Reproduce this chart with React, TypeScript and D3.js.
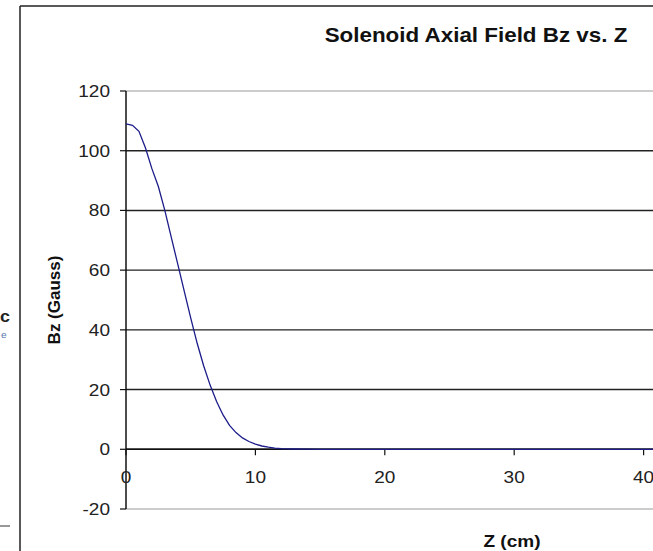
import React from 'react'
import * as d3 from 'd3'

// axial field samples
const zCm = [
	0, 0.5, 1, 1.5, 2, 2.5, 3, 3.5, 4, 4.5, 5, 5.5, 6, 6.5, 7, 7.5, 8, 8.5, 9, 9.5, 10, 10.5, 11, 11.5, 12,
	13, 14, 15, 20, 25, 30, 35, 40, 45, 50,
]
const bzGauss = [
	109, 108.5, 106.5, 101, 94, 88, 80, 71, 62, 53, 44, 35.5, 28, 21.5, 16, 11.5, 8, 5.6, 3.8, 2.6, 1.7, 1.1,
	0.7, 0.4, 0.2, 0.1, 0.05, 0, 0, 0, 0, 0, 0, 0, 0,
]
const yTicks = [-20, 0, 20, 40, 60, 80, 100, 120]
const xTicks = [0, 10, 20, 30, 40]

const font = 'Arial, "Liberation Sans", sans-serif'
// the scanned page is a bit wider than tall
const sx = 1.12

const Txt = (props: {
	x: number
	y: number
	size: number
	anchor?: string
	bold?: boolean
	fill?: string
	children: React.ReactNode
}) => (
	<text
		transform={`translate(${props.x},${props.y}) scale(${sx},1)`}
		textAnchor={props.anchor || 'start'}
		fontSize={props.size}
		fontWeight={props.bold ? 'bold' : 'normal'}
		fill={props.fill || '#222'}
	>
		{props.children}
	</text>
)

const App = () => {
	const width = 653,
		height = 551

	const x = d3.scaleLinear().domain([0, 50]).range([126, 773])
	const y = d3.scaleLinear().domain([-20, 120]).range([509, 91])

	const line = d3
		.line<number>()
		.x((_, i) => x(zCm[i]))
		.y((d) => y(d))

	return (
		<svg
			width={width}
			height={height}
			style={{ position: 'absolute', left: 0, top: 0, background: '#fff' }}
			fontFamily={font}
		>
			{/* outer chart frame */}
			<line x1={20} x2={width + 5} y1={6} y2={6} stroke="#222" strokeWidth={1.5} />
			<line x1={20} x2={20} y1={6} y2={height + 5} stroke="#222" strokeWidth={1.5} />

			{/* bits of the neighbouring page */}
			<Txt x={0} y={322} size={16} bold fill="#222">
				c
			</Txt>
			<Txt x={1} y={338} size={9} fill="#5577aa">
				e
			</Txt>
			<line x1={0} x2={10} y1={526} y2={526} stroke="#333" strokeWidth={1} />

			<Txt x={476} y={41.5} size={20} anchor="middle" bold fill="#111">
				Solenoid Axial Field Bz vs. Z
			</Txt>

			{/* gridlines */}
			{yTicks.map((t) => (
				<line
					key={t}
					x1={x(0)}
					x2={width + 5}
					y1={y(t)}
					y2={y(t)}
					stroke={t === 120 || t === -20 ? '#999' : '#222'}
					strokeWidth={t === 120 || t === -20 ? 1.2 : 1.4}
				/>
			))}

			{/* y axis */}
			<line x1={x(0)} x2={x(0)} y1={y(120)} y2={y(-20)} stroke="#111" strokeWidth={1.5} />
			{yTicks.map((t) => (
				<g key={t}>
					<line x1={x(0) - 6} x2={x(0)} y1={y(t)} y2={y(t)} stroke="#111" strokeWidth={1.2} />
					<Txt x={x(0) - 16} y={y(t) + 6} size={17} anchor="end">
						{t}
					</Txt>
				</g>
			))}

			{/* x axis at zero */}
			<line x1={x(0)} x2={width + 5} y1={y(0)} y2={y(0)} stroke="#111" strokeWidth={1.5} />
			{xTicks.map((t) => (
				<g key={t}>
					<line x1={x(t)} x2={x(t)} y1={y(0)} y2={y(0) + 6} stroke="#111" strokeWidth={1.2} />
					<Txt x={x(t)} y={y(0) + 34} size={17} anchor="middle">
						{t}
					</Txt>
				</g>
			))}

			<path d={line(bzGauss) || ''} fill="none" stroke="#1c1c8a" strokeWidth={1.3} />

			<text
				transform={`translate(60,${y(50)}) rotate(-90)`}
				textAnchor="middle"
				fontSize={17}
				fontWeight="bold"
				fill="#111"
			>
				Bz (Gauss)
			</text>
			<Txt x={512} y={547} size={17} anchor="middle" bold fill="#111">
				Z (cm)
			</Txt>
		</svg>
	)
}

export default App
